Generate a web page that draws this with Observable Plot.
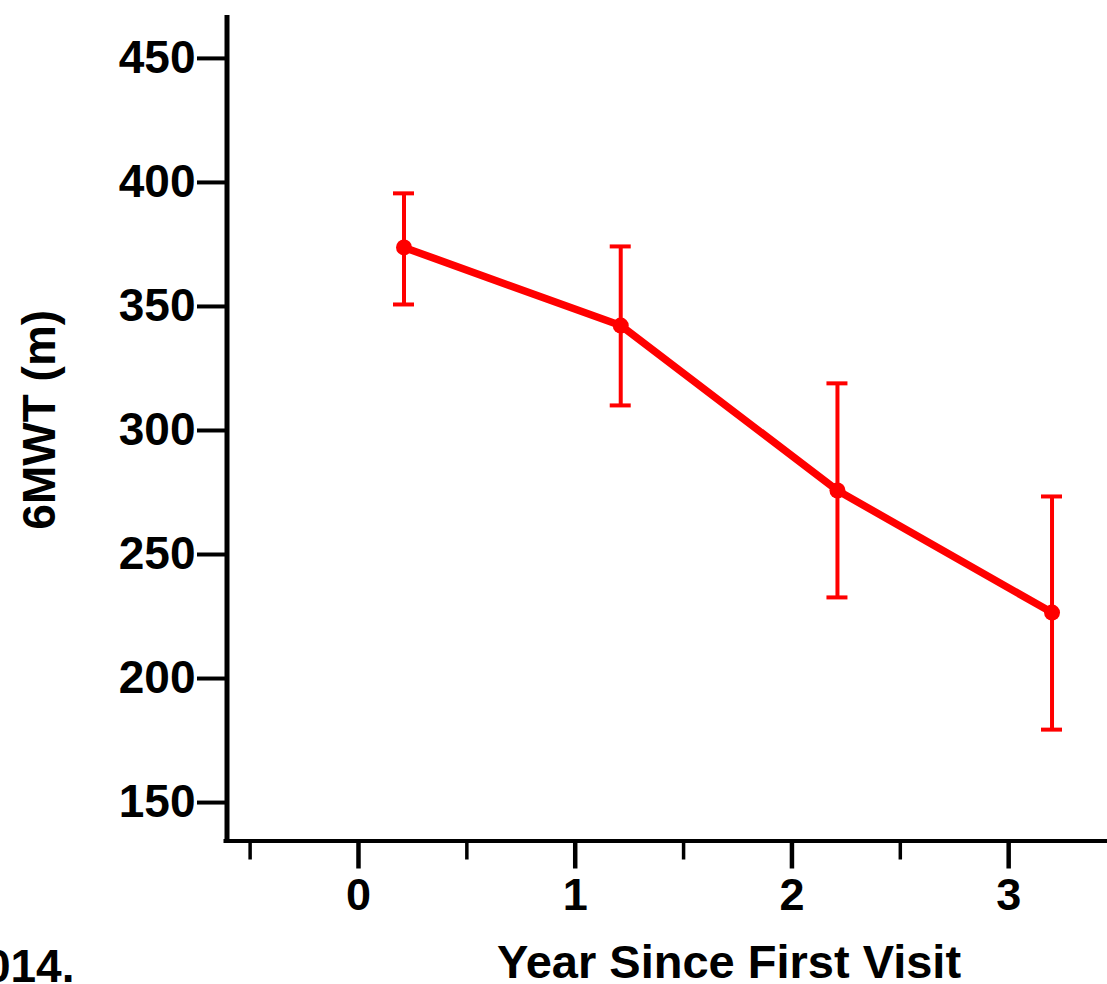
<!DOCTYPE html>
<html>
<head>
<meta charset="utf-8">
<script src="https://cdn.jsdelivr.net/npm/d3@7"></script>
<script src="https://cdn.jsdelivr.net/npm/@observablehq/plot@0.6"></script>
<style>
  html, body { margin: 0; padding: 0; background: #fff; }
  #chart svg { display: block; }
</style>
</head>
<body>
<div id="chart"></div>
<script>
// ---- data ----
const years = [0.21, 1.21, 2.21, 3.2];
const meanWalk = [373.8, 342.3, 275.8, 226.6];
const upperWalk = [395.6, 374.2, 319.0, 273.4];
const lowerWalk = [350.8, 310.1, 232.7, 179.4];
const yTicks = [150, 200, 250, 300, 350, 400, 450];
const xMajorTicks = [0, 1, 2, 3];
const xMinorTicks = [-0.5, 0.5, 1.5, 2.5];
const xTitle = "Year Since First Visit";
const yTitle = "6MWT (m)";
const cornerText = "2014.";

const rows = years.map((x, i) => ({x, y: meanWalk[i], hi: upperWalk[i], lo: lowerWalk[i]}));

const xDomain = [-0.609, 3.456];
const yDomain = [134.5, 467.3];
const red = "#ff0000";
const font = "'Liberation Sans', Arial, Helvetica, sans-serif";

const chart = Plot.plot({
  width: 1107,
  height: 984,
  marginLeft: 226,
  marginRight: 0,
  marginTop: 15,
  marginBottom: 143.5,
  style: {fontFamily: font, fontWeight: "bold", color: "#000", background: "#fff", overflow: "visible"},
  x: {domain: xDomain},
  y: {domain: yDomain},
  marks: [
    // axes
    Plot.axisY({ticks: yTicks, tickSize: 29, tickPadding: 2, fontSize: 46, strokeWidth: 4, label: null, tickFormat: d => String(d)}),
    Plot.axisX({ticks: xMinorTicks, tickSize: 19, tickPadding: 0, strokeWidth: 3.5, label: null, tickFormat: () => ""}),
    Plot.axisX({ticks: xMajorTicks, tickSize: 28, tickPadding: 9, fontSize: 45, strokeWidth: 4.5, label: null, tickFormat: d => String(d)}),
    Plot.ruleX([xDomain[0]], {stroke: "#000", strokeWidth: 5, dx: 0.5}),
    Plot.ruleY([yDomain[0]], {stroke: "#000", strokeWidth: 4, insetLeft: -2.5}),
    // error bars
    Plot.ruleX(rows, {x: "x", y1: "lo", y2: "hi", stroke: red, strokeWidth: 4}),
    Plot.ruleY(rows, {y: "hi", x1: "x", x2: "x", insetLeft: -10.5, insetRight: -10.5, stroke: red, strokeWidth: 4}),
    Plot.ruleY(rows, {y: "lo", x1: "x", x2: "x", insetLeft: -10.5, insetRight: -10.5, stroke: red, strokeWidth: 4}),
    // mean line + points
    Plot.line(rows, {x: "x", y: "y", stroke: red, strokeWidth: 7.5, strokeLinejoin: "round"}),
    Plot.dot(rows, {x: "x", y: "y", r: 8, fill: red, stroke: "none"}),
    // titles
    Plot.text([xTitle], {frameAnchor: "bottom", textAnchor: "middle", dx: 62, dy: 122, fontSize: 47, fontWeight: "bold", fill: "#000", lineAnchor: "middle"}),
    Plot.text([yTitle], {frameAnchor: "left", textAnchor: "middle", rotate: -90, dx: -186, dy: -8.5, fontSize: 46, fontWeight: "bold", fill: "#000", lineAnchor: "middle"}),
    Plot.text([cornerText], {frameAnchor: "bottom-left", dx: -152, dy: 126, textAnchor: "end", fontSize: 46, fontWeight: "bold", fill: "#000", lineAnchor: "middle"})
  ]
});
document.getElementById("chart").appendChild(chart);
</script>
</body>
</html>
